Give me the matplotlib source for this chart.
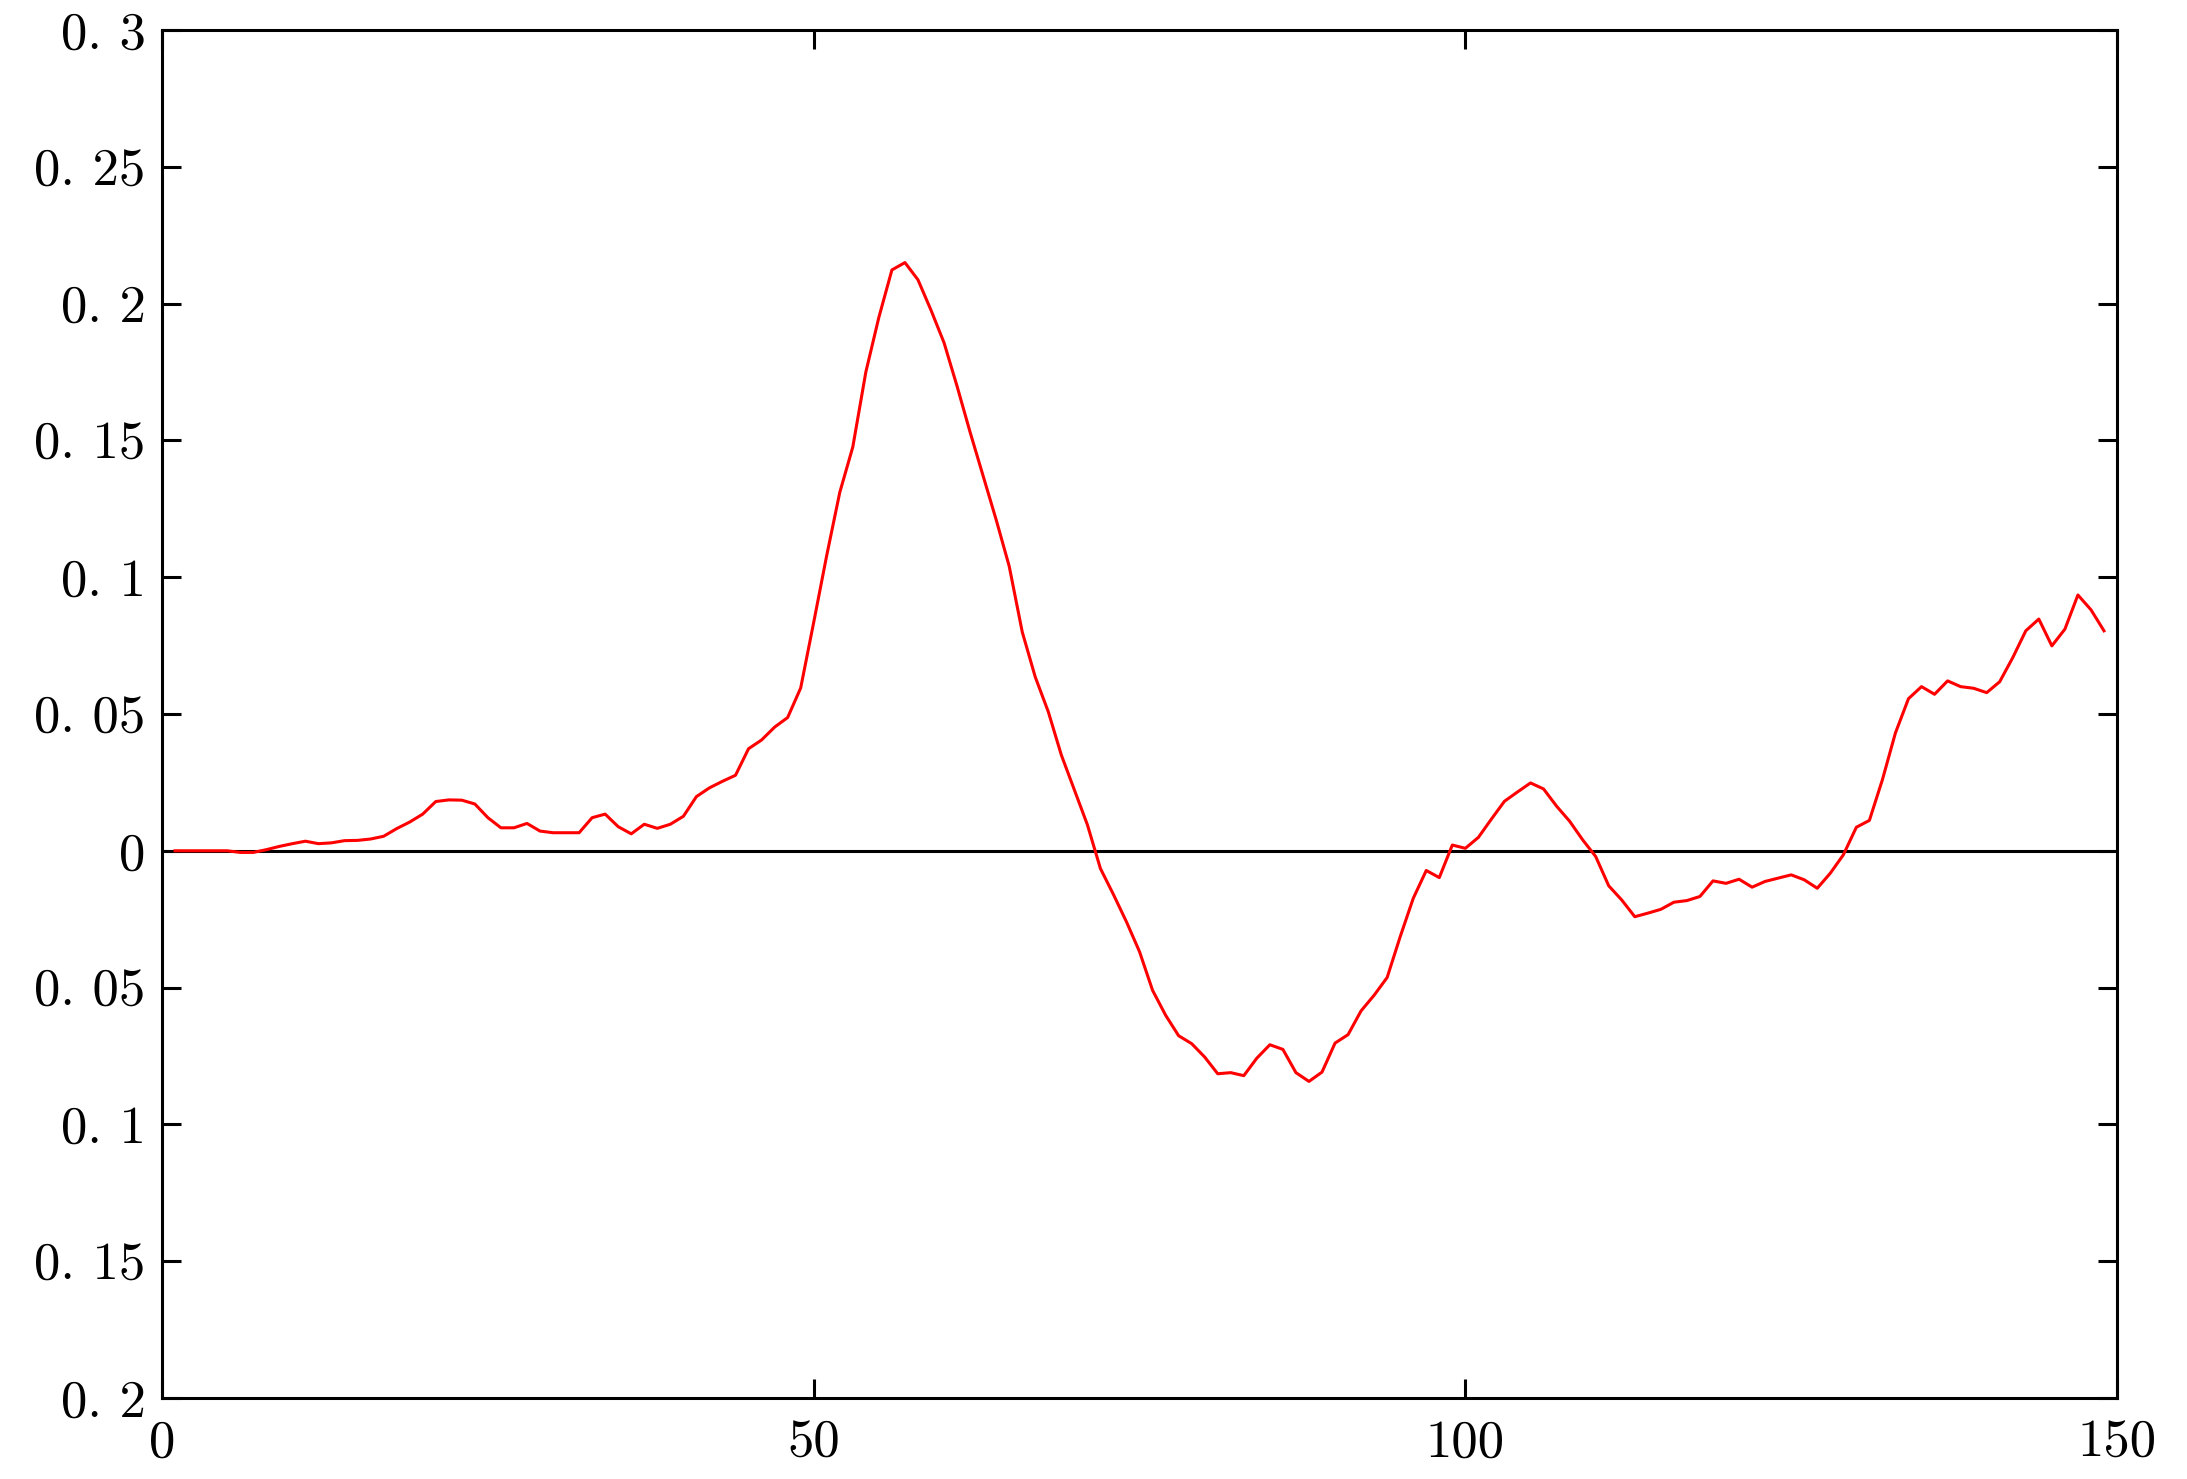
import matplotlib
matplotlib.use("Agg")
import matplotlib.pyplot as plt

# sample index runs 1..149
sample_start = 1
sample_stop = 150

signal = [
    0.0, 0.0, 0.0, 0.0, 0.0, -0.0006, -0.0006, 0.0004, 0.0016, 0.0026,
    0.0035, 0.0026, 0.0029, 0.0037, 0.0038, 0.0043, 0.0053, 0.0081, 0.0105, 0.0134,
    0.018, 0.0186, 0.0185, 0.0171, 0.0121, 0.0084, 0.0084, 0.010, 0.0072, 0.0066,
    0.0066, 0.0066, 0.0121, 0.0134, 0.0088, 0.0062, 0.0097, 0.0082, 0.0097, 0.0126,
    0.0198, 0.023, 0.0254, 0.0276, 0.0373, 0.0405, 0.0452, 0.0487, 0.0595, 0.0835,
    0.108, 0.131, 0.1476, 0.175, 0.195, 0.2123, 0.215, 0.2087, 0.1976, 0.1857,
    0.1698, 0.153, 0.137, 0.121, 0.104, 0.080, 0.0635, 0.0508, 0.035, 0.0222,
    0.0095, -0.0065, -0.016, -0.026, -0.0369, -0.051, -0.0601, -0.0676, -0.0705, -0.0754,
    -0.0815, -0.0811, -0.0822, -0.0758, -0.0709, -0.0726, -0.0811, -0.0843, -0.0809, -0.0703,
    -0.0672, -0.0585, -0.0528, -0.0463, -0.0314, -0.0174, -0.0072, -0.0098, 0.0021, 0.0009,
    0.0049, 0.0116, 0.0181, 0.0215, 0.0248, 0.0226, 0.0163, 0.0108, 0.0040, -0.0021,
    -0.0128, -0.018, -0.0241, -0.0228, -0.0214, -0.0188, -0.0182, -0.0167, -0.011, -0.0119,
    -0.0104, -0.0133, -0.0112, -0.010, -0.0088, -0.0106, -0.0137, -0.0082, -0.0015, 0.0086,
    0.0111, 0.026, 0.0431, 0.0556, 0.060, 0.0572, 0.0621, 0.060, 0.0594, 0.0578,
    0.0618, 0.0706, 0.0804, 0.0847, 0.0749, 0.081, 0.0935, 0.0881, 0.0804,
]

x_ticks = [0, 50, 100, 150]
x_tick_labels = ["0", "50", "100", "150"]
y_ticks = [0.3, 0.25, 0.2, 0.15, 0.1, 0.05, 0.0, -0.05, -0.1, -0.15, -0.2]
# the original export dropped the minus signs
y_tick_labels = ["0. 3", "0. 25", "0. 2", "0. 15", "0. 1", "0. 05", "0",
                 "0. 05", "0. 1", "0. 15", "0. 2"]

samples = list(range(sample_start, sample_stop))

fig = plt.figure(figsize=(21.87, 14.79), dpi=100)
ax = fig.add_axes([0.0741, 0.0548, 0.968 - 0.0741, 0.9797 - 0.0548])

ax.axhline(0, color="black", linewidth=2.2, zorder=1)
ax.plot(samples, signal, color="red", linewidth=2.2, zorder=2)

ax.set_xlim(0, 150)
ax.set_ylim(-0.2, 0.3)
ax.set_xticks(x_ticks)
ax.set_xticklabels(x_tick_labels)
ax.set_yticks(y_ticks)
ax.set_yticklabels(y_tick_labels)

for spine in ax.spines.values():
    spine.set_linewidth(2.2)

ax.tick_params(axis="both", direction="in", length=14, width=2.2,
               top=True, right=True, labelsize=38)
ax.tick_params(axis="y", pad=12)
ax.tick_params(axis="x", pad=16)
for lbl in ax.get_xticklabels() + ax.get_yticklabels():
    lbl.set_fontfamily("cmr10")

fig.savefig("out.png", dpi=100)
